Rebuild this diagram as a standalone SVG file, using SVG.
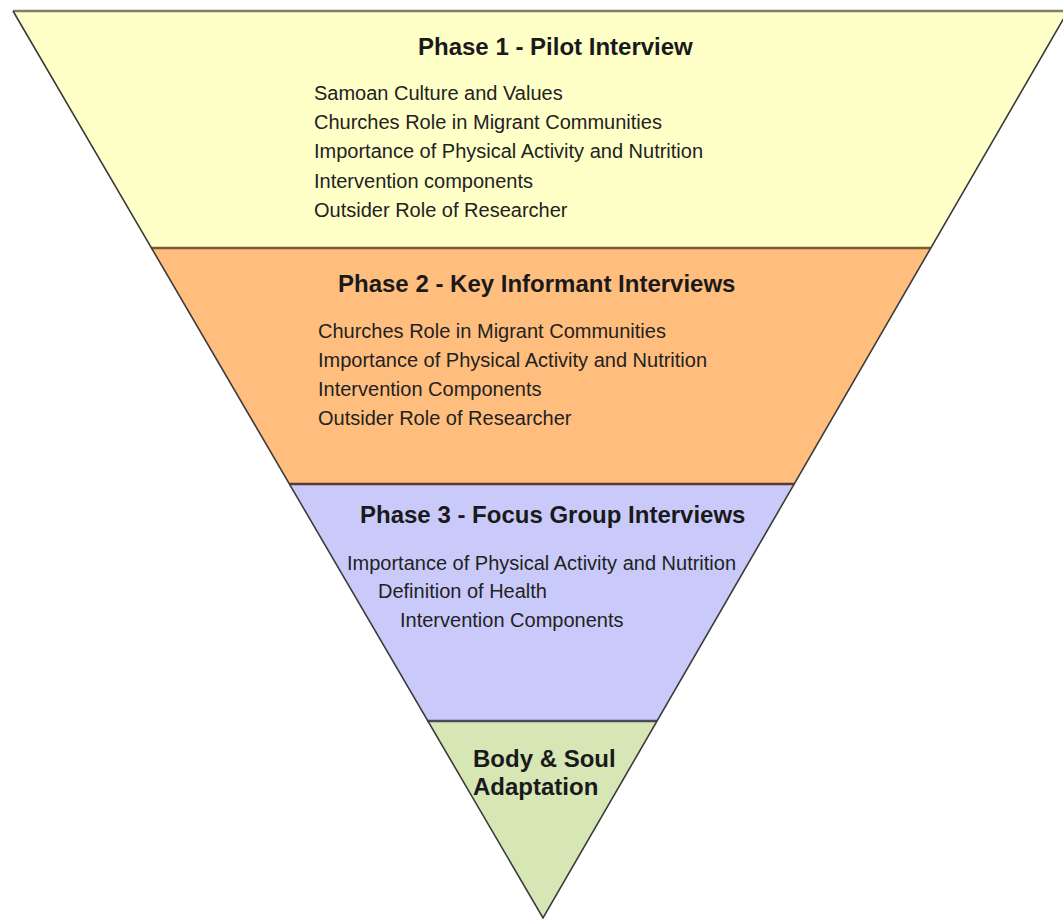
<svg xmlns="http://www.w3.org/2000/svg" width="1063" height="922" viewBox="0 0 1063 922">
<style>
.title{font-family:"Liberation Sans",Arial,sans-serif;font-weight:bold;font-size:24px;fill:#1a1a1a}
.body{font-family:"Liberation Sans",Arial,sans-serif;font-size:20px;fill:#222}
.side{stroke:#3c3c3c;stroke-width:1.6;fill:none}
</style>
<rect width="1063" height="922" fill="#ffffff"/>
<g id="phase1">
<polygon points="13,11 1068,11 930.8,248 151.5,248" fill="#FFFFC8"/>
<text class="title" x="418" y="55">Phase 1 - Pilot Interview</text>
<text class="body" x="314" y="100">Samoan Culture and Values</text>
<text class="body" x="314" y="129">Churches Role in Migrant Communities</text>
<text class="body" x="314" y="158">Importance of Physical Activity and Nutrition</text>
<text class="body" x="314" y="188">Intervention components</text>
<text class="body" x="314" y="217">Outsider Role of Researcher</text>
</g>
<g id="phase2">
<polygon points="151.5,248 930.8,248 794.2,484 289.4,484" fill="#FFBE7E"/>
<text class="title" x="338" y="292">Phase 2 - Key Informant Interviews</text>
<text class="body" x="318" y="338">Churches Role in Migrant Communities</text>
<text class="body" x="318" y="367">Importance of Physical Activity and Nutrition</text>
<text class="body" x="318" y="396">Intervention Components</text>
<text class="body" x="318" y="425">Outsider Role of Researcher</text>
</g>
<g id="phase3">
<polygon points="289.4,484 794.2,484 657,721 427.3,721" fill="#CACAFA"/>
<text class="title" x="360" y="523">Phase 3 - Focus Group Interviews</text>
<text class="body" x="347" y="570">Importance of Physical Activity and Nutrition</text>
<text class="body" x="378" y="598">Definition of Health</text>
<text class="body" x="400" y="627">Intervention Components</text>
</g>
<g id="adaptation">
<polygon points="427.3,721 657,721 543,918" fill="#D7E6B5"/>
<text class="title" x="473" y="767">Body &amp; Soul</text>
<text class="title" x="473" y="795">Adaptation</text>
</g>
<g id="outline">
<line x1="13" y1="11" x2="1068" y2="11" stroke="#7f7f6a" stroke-width="2.6"/>
<line x1="151.5" y1="248" x2="930.8" y2="248" stroke="#7a5a30" stroke-width="2.4"/>
<line x1="289.4" y1="484" x2="794.2" y2="484" stroke="#5a3a2a" stroke-width="2.4"/>
<line x1="427.3" y1="721" x2="657" y2="721" stroke="#4a4a5a" stroke-width="2.4"/>
<polyline class="side" points="13,11 543,918 1068,11"/>
</g>
</svg>
